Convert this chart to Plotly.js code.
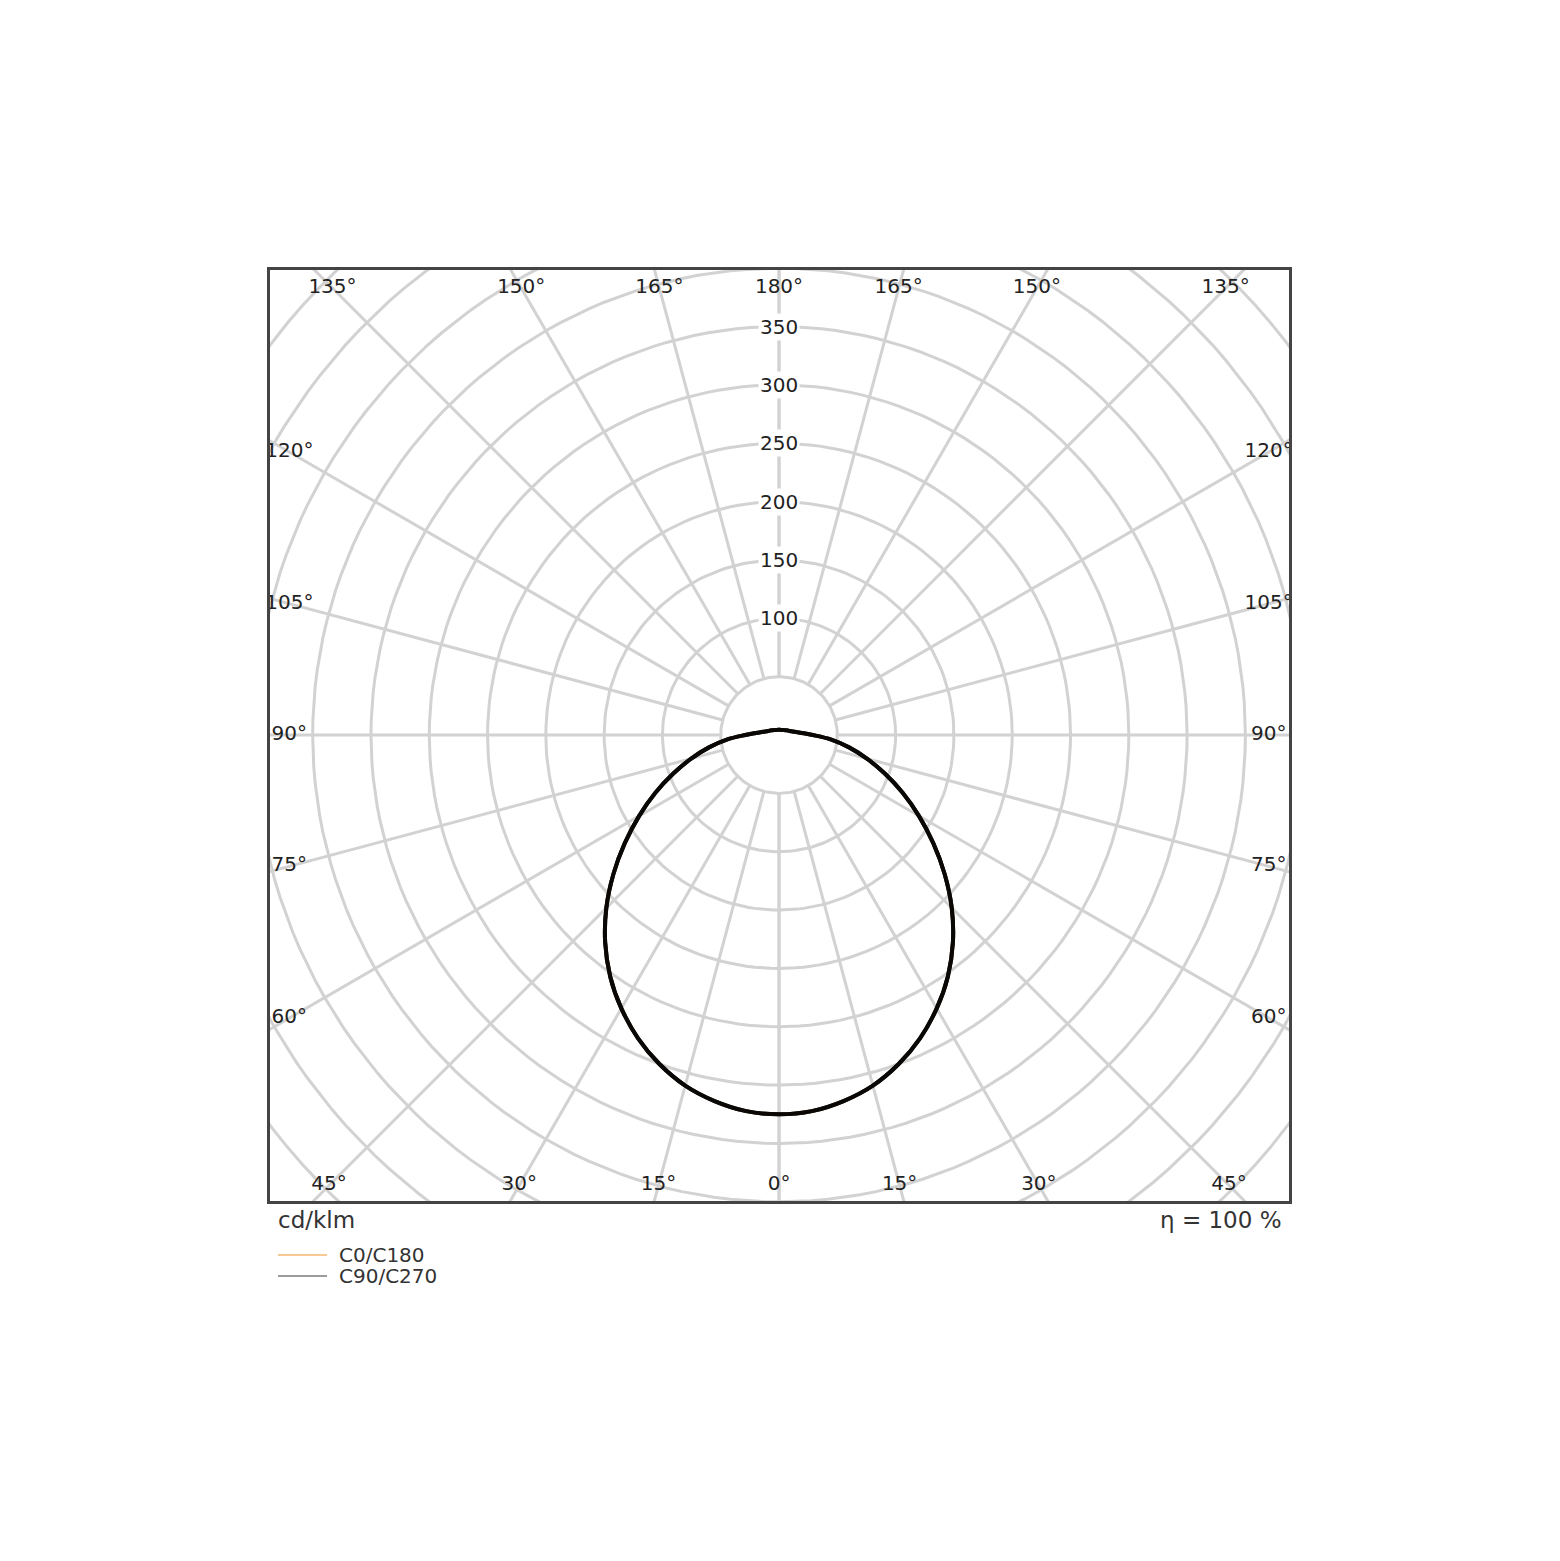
<!DOCTYPE html>
<html>
<head>
<meta charset="utf-8">
<script src="https://cdn.plot.ly/plotly-3.0.1.min.js"></script>
<style>
  body { margin: 0; background: #ffffff; }
  #chart { width: 1560px; height: 1561px; }
</style>
</head>
<body>
<div id="chart"></div>
<script>
// Light distribution curve (cd/klm)

// Vertical angle gamma, 0 = straight down
var gamma = [0, 5, 10, 15, 20, 25, 30, 35, 40, 45, 50, 55, 60, 65, 70, 75, 80, 85, 90,
  95, 100, 105, 110, 115, 120, 125, 130, 135, 140, 145, 150, 155, 160, 165, 170, 175, 180];

// C0/C180 plane
var c0c180 = [325, 323.5, 318.5, 311, 300, 286.5, 270.5, 252.5, 232, 209.5, 185.5, 161.5, 138.5, 117, 96.5, 78, 61, 45, 29,
  20, 15, 12, 10, 9, 8, 7.2, 6.5, 6, 5.6, 5.3, 5, 4.8, 4.7, 4.6, 4.5, 4.5, 4.5];

// C90/C270 plane
var c90c270 = [325, 323.5, 318.5, 311, 300, 286.5, 270.5, 252.5, 232, 209.5, 185.5, 161.5, 138.5, 117, 96.5, 78, 61, 45, 29,
  20, 15, 12, 10, 9, 8, 7.2, 6.5, 6, 5.6, 5.3, 5, 4.8, 4.7, 4.6, 4.5, 4.5, 4.5];

// Grid
var ringValues = [50, 100, 150, 200, 250, 300, 350, 400, 450, 500, 550, 600, 650];
var ringLabels = [100, 150, 200, 250, 300, 350];
var spokeAngles = [0, 15, 30, 45, 60, 75, 90, 105, 120, 135, 150, 165, 180];

var legendNames = ['C0/C180', 'C90/C270'];
var legendColors = ['#f6c995', '#9c9c9c'];

var unitText = 'cd/klm';
var effText = 'η = 100 %';

// ..................................................................

var rad = Math.PI / 180;
var gridColor = '#d2d2d2';
var textColor = '#222222';
var font = 'DejaVu Sans, Verdana, sans-serif';

// axis ranges: 1.167 px per cd/klm, pole at pixel (779.5, 735)
var xRange = [-436.6, 437.4];
var yRange = [-399.3, 398.5];

// polar -> xy, gamma measured from the downward vertical
function px(r, g, side) { return side * r * Math.sin(g * rad); }
function py(r, g) { return -r * Math.cos(g * rad); }

var data = [];

// rings
ringValues.forEach(function (r) {
  var xs = [], ys = [];
  for (var a = 0; a <= 360; a += 2) {
    xs.push(px(r, a, 1));
    ys.push(py(r, a));
  }
  data.push({
    x: xs, y: ys, type: 'scatter', mode: 'lines',
    line: { color: gridColor, width: 3 },
    hoverinfo: 'none'
  });
});

// spokes, both sides
spokeAngles.forEach(function (g) {
  [-1, 1].forEach(function (side) {
    data.push({
      x: [px(50, g, side), px(700, g, side)],
      y: [py(50, g), py(700, g)],
      type: 'scatter', mode: 'lines',
      line: { color: gridColor, width: 3 },
      hoverinfo: 'none'
    });
  });
});

// angle labels where the spokes meet an inset box
var labX = 420, labTop = 383, labBottom = 386;
var angX = [], angY = [], angT = [];
spokeAngles.forEach(function (g) {
  [-1, 1].forEach(function (side) {
    if ((g === 0 || g === 180) && side === 1) return;
    var s = Math.sin(g * rad), c = -Math.cos(g * rad);
    var ylim = c > 0 ? labTop : labBottom;
    var t = Math.min(
      Math.abs(s) > 1e-9 ? labX / Math.abs(s) : Infinity,
      Math.abs(c) > 1e-9 ? ylim / Math.abs(c) : Infinity
    );
    angX.push(side * s * t);
    angY.push(c * t);
    angT.push(g + '°');
  });
});
data.push({
  x: angX, y: angY, text: angT, type: 'scatter', mode: 'text',
  textfont: { family: font, size: 20, color: textColor },
  cliponaxis: true,
  hoverinfo: 'none'
});

// intensity curves: C180 / C270 on the left, C0 / C90 on the right
function curve(values, color) {
  var xs = [], ys = [];
  for (var i = gamma.length - 1; i >= 0; i--) {
    xs.push(px(values[i], gamma[i], -1));
    ys.push(py(values[i], gamma[i]));
  }
  for (var j = 1; j < gamma.length; j++) {
    xs.push(px(values[j], gamma[j], 1));
    ys.push(py(values[j], gamma[j]));
  }
  return {
    x: xs, y: ys, type: 'scatter', mode: 'lines',
    line: { color: color, width: 4, shape: 'spline', smoothing: 1 },
    hoverinfo: 'none'
  };
}
data.push(curve(c0c180, '#2a1806'));
data.push(curve(c90c270, '#0a0806'));

// ring value labels with white backing
var annotations = ringLabels.map(function (r) {
  return {
    x: 0, y: r, xref: 'x', yref: 'y', text: String(r), showarrow: false,
    bgcolor: '#ffffff', borderpad: 1,
    font: { family: font, size: 20, color: textColor }
  };
});

// pixel helpers for the paper-space texts below the frame
function paperX(p) { return (p - 270) / 1019; }
function paperY(p) { return (1201 - p) / 931; }

annotations.push({
  x: paperX(276), y: paperY(1220), xref: 'paper', yref: 'paper',
  xanchor: 'left', yanchor: 'middle', text: unitText, showarrow: false,
  font: { family: font, size: 23, color: '#333333' }
});
annotations.push({
  x: paperX(1284), y: paperY(1220), xref: 'paper', yref: 'paper',
  xanchor: 'right', yanchor: 'middle', text: effText, showarrow: false,
  font: { family: font, size: 23, color: '#333333' }
});

var shapes = [];
var legendY = [1255, 1276];
legendNames.forEach(function (name, i) {
  shapes.push({
    type: 'line', xref: 'paper', yref: 'paper',
    x0: paperX(278), x1: paperX(327), y0: paperY(legendY[i]), y1: paperY(legendY[i]),
    line: { color: legendColors[i], width: 2 }
  });
  annotations.push({
    x: paperX(337), y: paperY(legendY[i]), xref: 'paper', yref: 'paper',
    xanchor: 'left', yanchor: 'middle', text: name, showarrow: false,
    font: { family: font, size: 20, color: '#333333' }
  });
});

var layout = {
  width: 1560,
  height: 1561,
  showlegend: false,
  hovermode: false,
  paper_bgcolor: '#ffffff',
  plot_bgcolor: '#ffffff',
  margin: { l: 270, r: 271, t: 270, b: 360, pad: 0 },
  xaxis: {
    range: xRange, showgrid: false, zeroline: false, showticklabels: false, ticks: '',
    showline: true, mirror: true, linecolor: '#444444', linewidth: 3, fixedrange: true
  },
  yaxis: {
    range: yRange, showgrid: false, zeroline: false, showticklabels: false, ticks: '',
    showline: true, mirror: true, linecolor: '#444444', linewidth: 3, fixedrange: true
  },
  annotations: annotations,
  shapes: shapes
};

Plotly.newPlot('chart', data, layout, { displayModeBar: false, staticPlot: true });
</script>
</body>
</html>
